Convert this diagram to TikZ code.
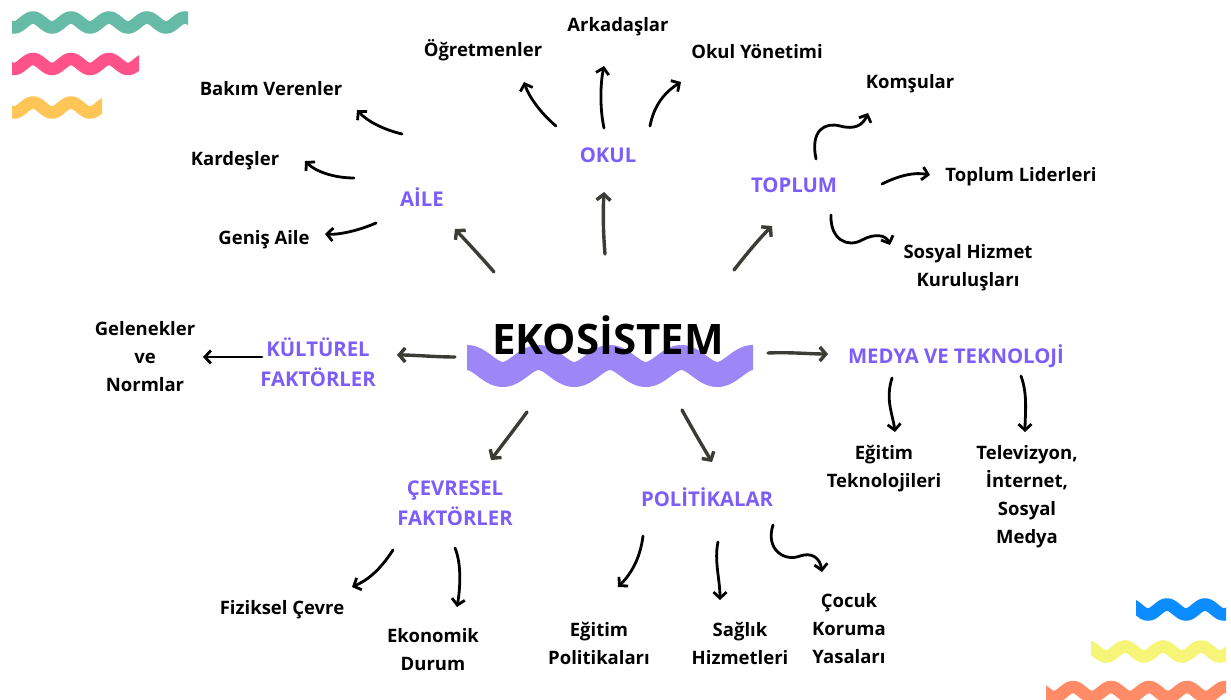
\documentclass[tikz,border=0pt]{standalone}
\usepackage{fontspec}
\setmainfont{Open Sans}
\usetikzlibrary{arrows.meta}
\definecolor{wgreen}{HTML}{66BBA6}
\definecolor{wpink}{HTML}{FF5289}
\definecolor{wyellow}{HTML}{FFC556}
\definecolor{wblue}{HTML}{0B8CFF}
\definecolor{wlyellow}{HTML}{F6F578}
\definecolor{worange}{HTML}{FF8C66}
\definecolor{wpurple}{HTML}{9D86F6}
\definecolor{catpurple}{HTML}{7C5DFA}
\definecolor{darkarr}{HTML}{3B3C36}
\newcommand{\wavyband}[8]{%
  \begin{scope}
    \clip (#2,#4-30) rectangle (#3,#4+30);
    \draw[line width=#8pt, color=#1] plot[domain=#2-10:#3+10, samples=150, smooth] (\x,{#4-#5*cos(((\x-#7)/#6)*360)});
  \end{scope}}
\begin{document}
\begin{tikzpicture}[x=1pt,y=-1pt,
  lbl/.style={font=\bfseries\fontsize{18.5}{28}\selectfont, align=center, inner sep=0pt},
  cat/.style={font=\bfseries\fontsize{20.3}{30}\selectfont, text=catpurple, align=center, inner sep=0pt},
  arr/.style={line width=2.8pt, line cap=round, -{Straight Barb[length=6pt,width=13pt]}},
  carr/.style={draw=darkarr, line width=3.4pt, line cap=round, -{Straight Barb[length=6pt,width=14pt]}}]
\useasboundingbox (0,0) rectangle (1231,700);
\fill[white] (0,0) rectangle (1231,700);
% decorative waves
\wavyband{wgreen}{12}{188}{22.5}{5}{38}{33}{12.5}
\wavyband{wpink}{12}{139}{64}{5}{38}{33}{12.5}
\wavyband{wyellow}{12}{102}{107.5}{5}{38}{33}{12.5}
\wavyband{wblue}{1136}{1226}{609.5}{5}{38}{1167}{12.5}
\wavyband{wlyellow}{1091}{1226}{651.5}{5}{38}{1125}{12.5}
\wavyband{worange}{1046}{1226}{692}{5}{38}{1073}{12.5}
% central band
\wavyband{wpurple}{467}{753}{366}{8.5}{71.5}{467}{25}
\node[font=\bfseries\fontsize{42}{48}\selectfont, inner sep=0pt, anchor=base] (eko) at (608,355) {EKOSİSTEM};
% categories
\node[cat] (aile) at (422,197) {AİLE};
\node[cat] (okul) at (608,155) {OKUL};
\node[cat] (toplum) at (794,185) {TOPLUM};
\node[cat] (kult) at (318,362) {KÜLTÜREL\\FAKTÖRLER};
\node[cat] (medya) at (956,356) {MEDYA VE TEKNOLOJİ};
\node[cat] (cevre) at (455,503) {ÇEVRESEL\\FAKTÖRLER};
\node[cat] (pol) at (707,497) {POLİTİKALAR};
% leaves
\node[lbl] (bakim) at (271,89) {Bakım Verenler};
\node[lbl] (kardes) at (235,161) {Kardeşler};
\node[lbl] (genis) at (264,240) {Geniş Aile};
\node[lbl] (ogret) at (483,50) {Öğretmenler};
\node[lbl] (ark) at (618,27) {Arkadaşlar};
\node[lbl] (yon) at (757,52) {Okul Yönetimi};
\node[lbl] (komsu) at (910,84) {Komşular};
\node[lbl] (lider) at (1021,177) {Toplum Liderleri};
\node[lbl] (sosyal) at (968,268) {Sosyal Hizmet\\Kuruluşları};
\node[lbl] (gelen) at (145,357) {Gelenekler\\ve\\Normlar};
\node[lbl] (egtek) at (884,469) {Eğitim\\Teknolojileri};
\node[lbl] (tv) at (1027,497) {Televizyon,\\İnternet,\\Sosyal\\Medya};
\node[lbl] (fiz) at (282,610) {Fiziksel Çevre};
\node[lbl] (ekon) at (433,650) {Ekonomik\\Durum};
\node[lbl] (egpol) at (599,643) {Eğitim\\Politikaları};
\node[lbl] (saglik) at (740,643) {Sağlık\\Hizmetleri};
\node[lbl] (cocuk) at (849,629) {Çocuk\\Koruma\\Yasaları};
% connector end points
\coordinate (eA) at (494,272); \coordinate (tA) at (455,229);
\coordinate (eO) at (605,254); \coordinate (tO) at (604,192);
\coordinate (eT) at (734,270); \coordinate (tT) at (772,226);
\coordinate (eK) at (455,357); \coordinate (tK) at (397,355);
\coordinate (eM) at (768,353); \coordinate (tM) at (828,354);
\coordinate (eC) at (527,412); \coordinate (tC) at (491,460);
\coordinate (eP) at (682,410); \coordinate (tP) at (712,462);
\coordinate (a1) at (402,134); \coordinate (b1) at (357,110);
\coordinate (a2) at (354,178); \coordinate (b2) at (305,161);
\coordinate (a3) at (376,223); \coordinate (b3) at (325,234);
\coordinate (o1) at (556,126); \coordinate (p1) at (524,82);
\coordinate (o2) at (604,128); \coordinate (p2) at (604,66);
\coordinate (o3) at (650,126); \coordinate (p3) at (681,82);
\coordinate (t1) at (816,159); \coordinate (u1) at (868,113);
\coordinate (t2) at (882,184); \coordinate (u2) at (930,175);
\coordinate (t3) at (831,215); \coordinate (u3) at (890,245);
\coordinate (k1) at (262,357); \coordinate (l1) at (203,357);
\coordinate (m1) at (892,378); \coordinate (n1) at (895,432);
\coordinate (m2) at (1021,376); \coordinate (n2) at (1025,432);
\coordinate (c1) at (393,550); \coordinate (d1) at (352,587);
\coordinate (c2) at (455,548); \coordinate (d2) at (457,607);
\coordinate (q1) at (643,536); \coordinate (r1) at (618,587);
\coordinate (q2) at (718,542); \coordinate (r2) at (720,600);
\coordinate (q3) at (773,525); \coordinate (r3) at (822,572);
% center connectors
\draw[carr] (eA) .. controls (482,258) and (467,242) .. (tA);
\draw[carr] (eO) .. controls (603,230) and (603,210) .. (tO);
\draw[carr] (eT) .. controls (748,252) and (760,238) .. (tT);
\draw[carr] (eK) .. controls (435,357) and (415,355) .. (tK);
\draw[carr] (eM) .. controls (790,352) and (810,354) .. (tM);
\draw[carr] (eC) .. controls (514,430) and (502,445) .. (tC);
\draw[carr] (eP) .. controls (693,430) and (703,447) .. (tP);
% AILE
\draw[arr] (a1) .. controls (385,130) and (368,122) .. (b1);
\draw[arr] (a2) .. controls (335,178) and (316,172) .. (b2);
\draw[arr] (a3) .. controls (360,230) and (340,235) .. (b3);
% OKUL
\draw[arr] (o1) .. controls (545,117) and (530,100) .. (p1);
\draw[arr] (o2) .. controls (600,110) and (600,85) .. (p2);
\draw[arr] (o3) .. controls (654,105) and (665,92) .. (p3);
% TOPLUM
\draw[arr] (t1) .. controls (810,130) and (825,122) .. (840,126) .. controls (855,130) and (863,125) .. (u1);
\draw[arr] (t2) .. controls (900,175) and (915,172) .. (u2);
\draw[arr] (t3) .. controls (830,240) and (848,248) .. (862,240) .. controls (875,233) and (886,235) .. (u3);
% KULTUREL
\draw[arr] (k1) .. controls (240,357) and (225,357) .. (l1);
% MEDYA
\draw[arr] (m1) .. controls (885,400) and (893,415) .. (n1);
\draw[arr] (m2) .. controls (1028,395) and (1025,415) .. (n2);
% CEVRESEL
\draw[arr] (c1) .. controls (380,570) and (368,580) .. (d1);
\draw[arr] (c2) .. controls (462,565) and (460,590) .. (d2);
% POLITIKALAR
\draw[arr] (q1) .. controls (640,560) and (630,575) .. (r1);
\draw[arr] (q2) .. controls (714,560) and (720,580) .. (r2);
\draw[arr] (q3) .. controls (765,550) and (785,562) .. (800,556) .. controls (812,552) and (820,558) .. (r3);
\end{tikzpicture}
\end{document}
